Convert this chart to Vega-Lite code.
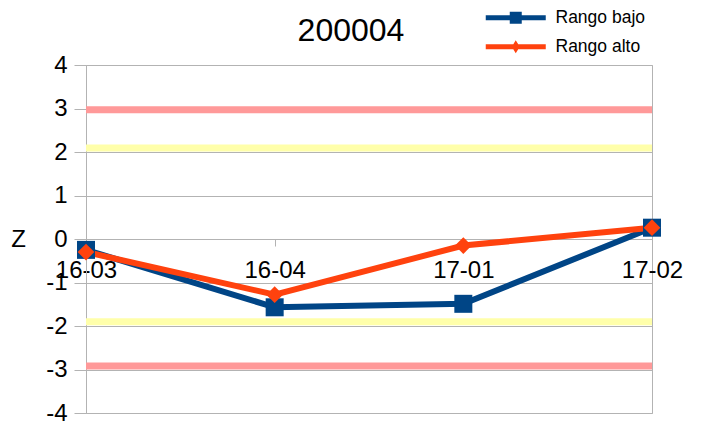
{
  "$schema": "https://vega.github.io/schema/vega-lite/v6.json",
  "width": 566,
  "height": 348,
  "autosize": {"type": "none"},
  "padding": {"left": 86, "top": 65, "right": 53, "bottom": 17},
  "background": "white",
  "title": {"text": "200004", "fontSize": 32, "font": "Liberation Sans", "fontWeight": "normal", "color": "black", "anchor": "middle", "frame": "group", "dx": -18, "dy": 64, "offset": 0, "baseline": "alphabetic"},
  "config": {
    "font": "Liberation Sans",
    "view": {"stroke": "#b3b3b3", "strokeWidth": 1},
    "axisY": {"gridColor": "#b3b3b3", "gridOpacity": 1, "domainColor": "#b3b3b3", "tickColor": "#b3b3b3", "tickSize": 12, "labelPadding": 7, "labelFontSize": 24, "labelColor": "black", "labelFont": "Liberation Sans", "values": [-4, -3, -2, -1, 0, 1, 2, 3, 4], "labelExpr": "replace(datum.label, '\u2212', '-')", "titleAngle": 0, "titleFontSize": 24, "titleFontWeight": "normal", "titleColor": "black", "titleFont": "Liberation Sans", "titleX": -68, "titleY": 174, "titleAlign": "center", "titleBaseline": "middle"}
  },
  "datasets": {
    "series": [
      {"fecha": "16-03", "serie": "Rango bajo", "z": -0.25},
      {"fecha": "16-04", "serie": "Rango bajo", "z": -1.57},
      {"fecha": "17-01", "serie": "Rango bajo", "z": -1.49},
      {"fecha": "17-02", "serie": "Rango bajo", "z": 0.26},
      {"fecha": "16-03", "serie": "Rango alto", "z": -0.3},
      {"fecha": "16-04", "serie": "Rango alto", "z": -1.28},
      {"fecha": "17-01", "serie": "Rango alto", "z": -0.15},
      {"fecha": "17-02", "serie": "Rango alto", "z": 0.26}
    ],
    "rojo": [{"z": 2.97}, {"z": -2.92}],
    "amarillo": [{"z": 2.09}, {"z": -1.9}]
  },
  "layer": [
    {
      "data": {"name": "rojo"},
      "mark": {"type": "rule", "color": "#ff9999", "strokeWidth": 7},
      "encoding": {
        "y": {"field": "z", "type": "quantitative", "title": "Z", "scale": {"domain": [-4, 4]}}
      }
    },
    {
      "data": {"name": "amarillo"},
      "mark": {"type": "rule", "color": "#ffffaa", "strokeWidth": 7},
      "encoding": {
        "y": {"field": "z", "type": "quantitative", "title": "Z", "scale": {"domain": [-4, 4]}}
      }
    },
    {
      "data": {"name": "series"},
      "mark": {"type": "line", "strokeWidth": 6},
      "encoding": {
        "x": {"field": "fecha", "type": "ordinal", "sort": null, "scale": {"type": "point", "padding": 0},
          "axis": {"title": null, "offset": -174, "domainColor": "#b3b3b3", "tickColor": "#b3b3b3", "tickSize": 7, "labelFontSize": 24, "labelColor": "black", "labelFont": "Liberation Sans", "labelPadding": 12, "labelAngle": 0, "labelOverlap": false, "grid": false}},
        "y": {"field": "z", "type": "quantitative", "title": "Z", "scale": {"domain": [-4, 4]}},
        "color": {"field": "serie", "type": "nominal", "scale": {"domain": ["Rango bajo", "Rango alto"], "range": ["#004586", "#ff420e"]},
          "legend": {"title": null, "orient": "none", "legendX": 421, "legendY": -56, "symbolSize": 100, "labelFontSize": 17.5, "labelFont": "Liberation Sans", "labelColor": "black", "labelOffset": 31, "rowPadding": 10, "symbolStrokeWidth": 0,
            "encode": {"symbols": {"update": {
              "shape": [{"test": "datum.value === 'Rango bajo'", "value": "M-6,-0.5H6V0.5H-6Z M-1.2,-1.2H1.2V1.2H-1.2Z"}, {"value": "M-6,-0.5H6V0.5H-6Z M0,-1.3L0.8,0L0,1.3L-0.8,0Z"}],
              "fill": {"scale": "color", "field": "value"},
              "strokeWidth": {"value": 0},
              "opacity": {"value": 1}
            }}}}}
      }
    },
    {
      "data": {"name": "series"},
      "transform": [{"filter": "datum.serie === 'Rango bajo'"}],
      "mark": {"type": "point", "filled": true, "opacity": 1, "shape": "square", "size": 324},
      "encoding": {
        "x": {"field": "fecha", "type": "ordinal", "sort": null, "scale": {"type": "point", "padding": 0}},
        "y": {"field": "z", "type": "quantitative", "title": "Z", "scale": {"domain": [-4, 4]}},
        "color": {"field": "serie", "type": "nominal", "scale": {"domain": ["Rango bajo", "Rango alto"], "range": ["#004586", "#ff420e"]},
          "legend": {"title": null, "orient": "none", "legendX": 421, "legendY": -56, "symbolSize": 100, "labelFontSize": 17.5, "labelFont": "Liberation Sans", "labelColor": "black", "labelOffset": 31, "rowPadding": 10, "symbolStrokeWidth": 0,
            "encode": {"symbols": {"update": {
              "shape": [{"test": "datum.value === 'Rango bajo'", "value": "M-6,-0.5H6V0.5H-6Z M-1.2,-1.2H1.2V1.2H-1.2Z"}, {"value": "M-6,-0.5H6V0.5H-6Z M0,-1.3L0.8,0L0,1.3L-0.8,0Z"}],
              "fill": {"scale": "color", "field": "value"},
              "strokeWidth": {"value": 0},
              "opacity": {"value": 1}
            }}}}}
      }
    },
    {
      "data": {"name": "series"},
      "transform": [{"filter": "datum.serie === 'Rango alto'"}],
      "mark": {"type": "point", "filled": true, "opacity": 1, "shape": "diamond", "size": 280},
      "encoding": {
        "x": {"field": "fecha", "type": "ordinal", "sort": null, "scale": {"type": "point", "padding": 0}},
        "y": {"field": "z", "type": "quantitative", "title": "Z", "scale": {"domain": [-4, 4]}},
        "color": {"field": "serie", "type": "nominal", "scale": {"domain": ["Rango bajo", "Rango alto"], "range": ["#004586", "#ff420e"]},
          "legend": {"title": null, "orient": "none", "legendX": 421, "legendY": -56, "symbolSize": 100, "labelFontSize": 17.5, "labelFont": "Liberation Sans", "labelColor": "black", "labelOffset": 31, "rowPadding": 10, "symbolStrokeWidth": 0,
            "encode": {"symbols": {"update": {
              "shape": [{"test": "datum.value === 'Rango bajo'", "value": "M-6,-0.5H6V0.5H-6Z M-1.2,-1.2H1.2V1.2H-1.2Z"}, {"value": "M-6,-0.5H6V0.5H-6Z M0,-1.3L0.8,0L0,1.3L-0.8,0Z"}],
              "fill": {"scale": "color", "field": "value"},
              "strokeWidth": {"value": 0},
              "opacity": {"value": 1}
            }}}}}
      }
    }
  ]
}
